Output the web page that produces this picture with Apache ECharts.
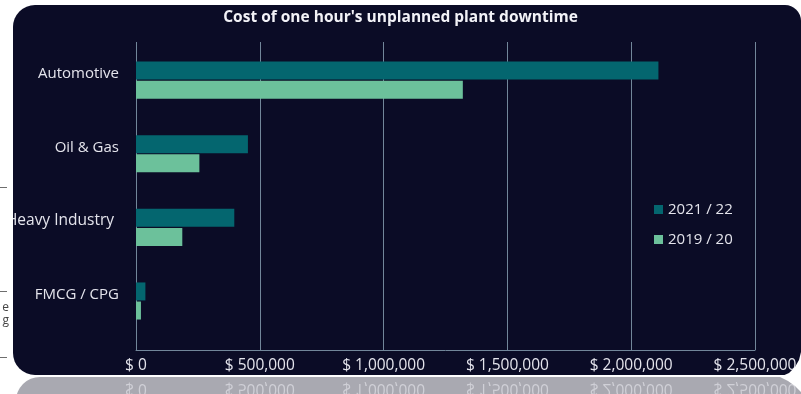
<!DOCTYPE html>
<html>
<head>
<meta charset="utf-8">
<title>Cost of one hour's unplanned plant downtime</title>
<script src="https://cdn.jsdelivr.net/npm/echarts@6/dist/echarts.min.js"></script>
<style>
  html, body { margin: 0; padding: 0; background: #ffffff; }
  #chart { width: 801px; height: 394px; }
</style>
</head>
<body>
<div id="chart"></div>
<script>
// Cost per hour of unplanned downtime, by industry (USD)
const categories = ['Automotive', 'Oil & Gas', 'Heavy Industry', 'FMCG / CPG'];
const cost2122 = [2110000, 452000, 397000, 38000];
const cost1920 = [1320000, 256000, 187000, 20000];
const seriesNames = ['2021 / 22', '2019 / 20'];
const xTicks = [0, 500000, 1000000, 1500000, 2000000, 2500000];

const PANEL = '#0b0c26';
const GRID_LINE = '#72879a';
const TEXT = '#e4e4ec';
const FONT = '"Open Sans", "Noto Sans", sans-serif';

const fmtMoney = v => '$ ' + v.toLocaleString('en-US');

const chart = echarts.init(document.getElementById('chart'), null, { renderer: 'canvas' });

const option = {
  backgroundColor: '#ffffff',
  animation: false,
  textStyle: { fontFamily: FONT },
  title: {
    text: "Cost of one hour's unplanned plant downtime",
    left: 'center',
    top: 5,
    textStyle: { color: '#f2f2f7', fontSize: 15.5, fontWeight: 'bold', fontFamily: FONT }
  },
  legend: {
    orient: 'vertical',
    left: 649,
    top: 197,
    itemWidth: 9,
    itemHeight: 9,
    itemGap: 15,
    icon: 'rect',
    data: seriesNames,
    textStyle: { color: TEXT, fontSize: 15, fontFamily: FONT }
  },
  grid: [
    { left: 136, width: 619, top: 42, height: 308 },
    { left: 136, width: 619, top: 43.3, height: 294.5 }
  ],
  xAxis: [
    {
      gridIndex: 0,
      type: 'value',
      min: xTicks[0],
      max: xTicks[xTicks.length - 1],
      interval: xTicks[1] - xTicks[0],
      axisLine: { show: true, lineStyle: { color: GRID_LINE, width: 1 } },
      axisTick: { show: false },
      splitLine: { show: true, lineStyle: { color: GRID_LINE, width: 1 } },
      axisLabel: {
        color: TEXT, fontSize: 15.5, fontFamily: FONT, margin: 8,
        formatter: fmtMoney
      }
    },
    {
      gridIndex: 1,
      type: 'value',
      min: xTicks[0],
      max: xTicks[xTicks.length - 1],
      show: false
    }
  ],
  yAxis: [
    { gridIndex: 0, type: 'value', show: false },
    {
      gridIndex: 1,
      type: 'category',
      data: categories,
      inverse: true,
      axisLine: { show: false },
      axisTick: { show: false },
      splitLine: { show: false },
      axisLabel: {
        color: TEXT, fontSize: 15, fontFamily: FONT, margin: 17,
        formatter: v => v === 'Heavy Industry' ? '{s|' + v + '}' : '{n|' + v + '}',
        rich: {
          n: { color: TEXT, fontSize: 15, fontFamily: FONT, padding: [0, 0, 13, 0] },
          s: { color: TEXT, fontSize: 15.5, fontFamily: FONT, padding: [0, 5, 13, 0] }
        }
      }
    }
  ],
  series: [
    {
      name: seriesNames[0],
      type: 'bar',
      xAxisIndex: 1,
      yAxisIndex: 1,
      data: cost2122,
      barWidth: 18,
      barGap: '6%',
      itemStyle: { color: '#04666f' }
    },
    {
      name: seriesNames[1],
      type: 'bar',
      xAxisIndex: 1,
      yAxisIndex: 1,
      data: cost1920,
      barWidth: 18,
      barGap: '6%',
      itemStyle: { color: '#6cc19b' }
    }
  ]
};

chart.setOption(option);

// Page decoration: dark rounded panel, its glossy reflection, and page edge bits
const baseY = 377;
const graphics = [
  {
    type: 'rect', z: -10, silent: true,
    shape: { x: 13, y: 5, width: 788, height: 370, r: [22, 16, 0, 22] },
    style: { fill: PANEL }
  },
  {
    type: 'rect', z: -10, silent: true,
    shape: { x: 16, y: baseY, width: 785, height: 30, r: [24, 0, 0, 0] },
    style: { fill: '#a9a9b1' }
  },
  // mask the part of the long label that runs past the panel edge
  {
    type: 'rect', z: 50, zlevel: 0, silent: true,
    shape: { x: 0, y: 205, width: 13, height: 30 },
    style: { fill: '#ffffff' }
  },
  // page curl at the lower right corner
  {
    type: 'polygon', z: 60, silent: true,
    shape: { points: [[801, 352], [799, 360], [795, 367], [789, 373], [780, 377], [788, 381], [795, 386], [801, 392]] },
    style: { fill: '#ffffff' }
  }
];

// neighbouring column rules on the left page edge
[187, 224, 291, 357].forEach(y => {
  graphics.push({
    type: 'line', z: 5, silent: true,
    shape: { x1: 0, y1: y + 0.5, x2: 7, y2: y + 0.5 },
    style: { stroke: '#6e6e6e', lineWidth: 1 }
  });
});
[['e', 308], ['g', 321]].forEach(([t, y]) => {
  graphics.push({
    type: 'text', z: 5, silent: true,
    style: { text: t, x: 9, y: y, fill: '#444444', font: '12px ' + FONT, align: 'right', verticalAlign: 'middle' }
  });
});

// mirrored tick labels in the reflection
xTicks.forEach(v => {
  const px = chart.convertToPixel({ xAxisIndex: 0 }, v);
  graphics.push({
    type: 'text', z: 1, silent: true,
    x: px, y: 388, scaleY: -1,
    style: {
      text: fmtMoney(v), x: 0, y: 0,
      fill: '#d0d0d7', font: '15.5px ' + FONT,
      align: 'center', verticalAlign: 'middle'
    }
  });
});

chart.setOption({ graphic: graphics });
</script>
</body>
</html>
